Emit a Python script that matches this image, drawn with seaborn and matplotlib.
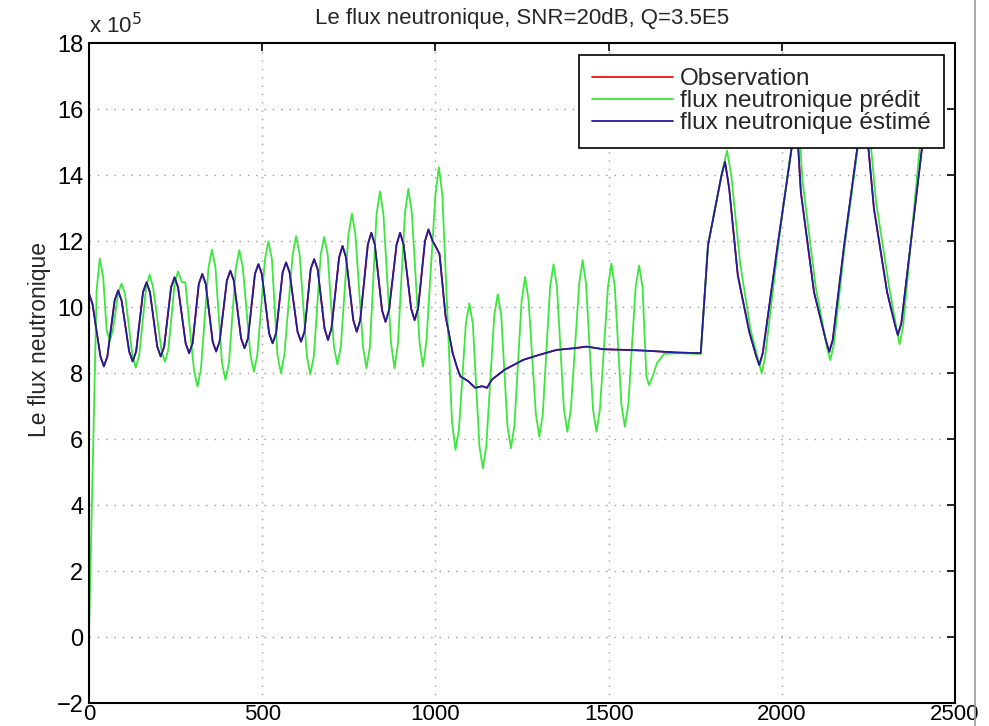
import matplotlib
matplotlib.use("Agg")
import matplotlib.pyplot as plt
import seaborn as sns
import pandas as pd
from matplotlib.lines import Line2D
from matplotlib import font_manager

# ---- data (values in units of 1e5) ----
est_x = [0, 10, 33, 43, 53, 74, 84, 94, 116, 126, 136, 156, 166, 176, 197, 207, 217,
         237, 247, 257, 279, 289, 299, 317, 327, 337, 357, 367, 377, 398, 408, 418,
         439, 449, 459, 479, 489, 499, 520, 530, 540, 559, 569, 579, 602, 612, 622,
         640, 650, 660, 680, 690, 700, 722, 732, 742, 763, 773, 783, 805, 815, 825,
         846, 856, 866, 888, 898, 908, 930, 940, 950, 970, 980, 992, 1005, 1012, 1029,
         1050, 1063, 1072, 1095, 1115, 1135, 1149, 1163, 1200, 1254, 1300, 1350, 1400,
         1437, 1485, 1550, 1600, 1700, 1766, 1787, 1826, 1836, 1848, 1873, 1906, 1925,
         1935, 1945, 1988, 2042, 2055, 2093, 2127, 2137, 2147, 2180, 2237, 2266, 2304,
         2327, 2335, 2345, 2405]
est_y = [10.4, 10.1, 8.5, 8.2, 8.5, 10.2, 10.5, 10.2, 8.65, 8.35, 8.65, 10.45, 10.75,
         10.45, 8.8, 8.5, 8.8, 10.6, 10.9, 10.6, 8.9, 8.6, 8.9, 10.7, 11.0, 10.7, 8.95,
         8.65, 8.95, 10.8, 11.1, 10.8, 9.05, 8.75, 9.05, 11.0, 11.3, 11.0, 9.2, 8.9,
         9.2, 11.05, 11.35, 11.05, 9.25, 8.95, 9.25, 11.15, 11.45, 11.15, 9.35, 9.0,
         9.35, 11.5, 11.85, 11.5, 9.6, 9.25, 9.6, 11.9, 12.25, 11.9, 9.9, 9.55, 9.9,
         11.9, 12.25, 11.9, 9.95, 9.6, 9.95, 12.0, 12.35, 12.0, 11.75, 11.6, 9.75, 8.6,
         8.15, 7.9, 7.75, 7.55, 7.6, 7.55, 7.8, 8.1, 8.4, 8.55, 8.7, 8.75, 8.8, 8.72,
         8.7, 8.68, 8.62, 8.6, 11.87, 14.0, 14.4, 13.6, 10.96, 9.25, 8.55, 8.24, 8.6,
         11.87, 15.8, 13.48, 10.45, 9.0, 8.64, 9.0, 11.87, 16.3, 12.98, 10.45, 9.45,
         9.15, 9.5, 14.85]

pred_x = [0, 22, 31, 41, 51, 60, 69, 84, 94, 104, 125, 135, 145, 165, 175, 185, 209,
          219, 229, 247, 257, 268, 278, 303, 313, 323, 345, 355, 365, 384, 394, 404,
          424, 434, 444, 466, 476, 486, 508, 518, 528, 544, 554, 564, 588, 598, 608,
          629, 639, 649, 669, 679, 689, 707, 717, 727, 749, 759, 769, 791, 801, 811,
          830, 840, 850, 872, 882, 892, 912, 922, 932, 954, 964, 974, 1000, 1010, 1020,
          1048, 1058, 1068, 1088, 1098, 1108, 1127, 1137, 1147, 1170, 1180, 1190, 1208,
          1218, 1228, 1249, 1259, 1269, 1290, 1300, 1310, 1331, 1341, 1351, 1371, 1381,
          1391, 1415, 1425, 1435, 1455, 1465, 1475, 1498, 1508, 1518, 1537, 1547, 1557,
          1578, 1588, 1598, 1609, 1617, 1627, 1640, 1660, 1700, 1766, 1787, 1832, 1842,
          1854, 1880, 1910, 1932, 1942, 1952, 1990, 2045, 2060, 2098, 2130, 2140, 2150,
          2182, 2242, 2272, 2310, 2332, 2340, 2350, 2398]
pred_y = [0.05, 10.5, 11.47, 10.9, 9.3, 8.97, 9.3, 10.4, 10.71, 10.4, 8.55, 8.16, 8.55,
          10.6, 10.98, 10.6, 8.7, 8.34, 8.7, 10.7, 11.08, 10.75, 10.75, 8.1, 7.59, 8.1,
          11.2, 11.74, 11.2, 8.3, 7.79, 8.3, 11.2, 11.72, 11.2, 8.55, 8.04, 8.55, 11.45,
          11.99, 11.45, 8.55, 7.99, 8.55, 11.6, 12.15, 11.6, 8.5, 7.96, 8.5, 11.6, 12.12,
          11.6, 8.8, 8.26, 8.8, 12.2, 12.83, 12.2, 8.8, 8.14, 8.8, 12.8, 13.5, 12.8, 8.9,
          8.14, 8.9, 12.85, 13.58, 12.85, 8.95, 8.19, 8.95, 13.4, 14.24, 13.4, 6.5, 5.67,
          6.3, 9.5, 10.11, 9.5, 5.8, 5.11, 5.8, 9.75, 10.39, 9.75, 6.4, 5.72, 6.4, 10.2,
          10.91, 10.2, 6.75, 6.07, 6.75, 10.6, 11.29, 10.6, 6.9, 6.22, 6.9, 10.7, 11.42,
          10.7, 6.9, 6.22, 6.9, 10.6, 11.32, 10.6, 7.05, 6.37, 7.05, 10.6, 11.26, 10.6,
          7.9, 7.63, 7.9, 8.3, 8.58, 8.6, 8.58, 11.9, 14.3, 14.74, 14.0, 11.3, 9.3, 8.4,
          7.99, 8.5, 11.9, 16.2, 13.8, 10.6, 8.8, 8.39, 8.85, 11.9, 16.6, 13.2, 10.6,
          9.3, 8.87, 9.4, 14.8]

# observation is hidden under the estimate in the reference
obs_x = est_x
obs_y = est_y

xticks = [0, 500, 1000, 1500, 2000, 2500]
yticks = [-2, 0, 2, 4, 6, 8, 10, 12, 14, 16, 18]

title = "Le flux neutronique, SNR=20dB, Q=3.5E5"
ylabel = "Le flux neutronique"
labels = ["Observation", "flux neutronique prédit", "flux neutronique éstimé"]
colors = ["#e00000", "#3ce63c", "#221c9c"]

sns.set_style("white")
plt.rcParams["font.family"] = ["Liberation Sans", "DejaVu Sans"]

names = {f.name for f in font_manager.fontManager.ttflist}
tick_family = "Liberation Sans Narrow" if "Liberation Sans Narrow" in names else "Liberation Sans"

fig = plt.figure(figsize=(9.89, 7.26), dpi=100)
W, H = 989, 726
ax = fig.add_axes([89 / W, (H - 703) / H, (955 - 89) / W, (703 - 43) / H])

df_obs = pd.DataFrame({"x": obs_x, "y": obs_y})
df_pred = pd.DataFrame({"x": pred_x, "y": pred_y})
df_est = pd.DataFrame({"x": est_x, "y": est_y})

sns.lineplot(data=df_obs, x="x", y="y", ax=ax, color=colors[0], lw=1.2,
             estimator=None, sort=False, label=labels[0])
sns.lineplot(data=df_pred, x="x", y="y", ax=ax, color=colors[1], lw=1.3,
             estimator=None, sort=False, label=labels[1])
sns.lineplot(data=df_est, x="x", y="y", ax=ax, color=colors[2], lw=1.3,
             estimator=None, sort=False, label=labels[2])

ax.set_xlim(0, 2500)
ax.set_ylim(-2, 18)
ax.set_xticks(xticks)
ax.set_yticks(yticks)
ax.set_xlabel("")
ax.set_ylabel(ylabel, fontsize=16.5)
ax.yaxis.set_label_coords(-0.044, 0.55)
ax.set_title(title, fontsize=16, pad=14)

ax.grid(True, color="#9a9a9a", linestyle=(0, (1, 5)), linewidth=1.0)
ax.tick_params(direction="in", length=6, width=1.2, top=True, right=True,
               labelsize=17, colors="black", pad=4)
ax.tick_params(axis="x", labelsize=16, pad=1)
for lab in ax.get_xticklabels() + ax.get_yticklabels():
    lab.set_family(tick_family)
for s in ax.spines.values():
    s.set_color("black")
    s.set_linewidth(1.5)

ax.text(0, 1.008, "x 10$^{5}$", transform=ax.transAxes, fontsize=16,
        ha="left", va="bottom")

leg = ax.legend(loc="upper right", bbox_to_anchor=(944 / W, (H - 55) / H),
                bbox_transform=fig.transFigure, fontsize=17.5, frameon=True,
                fancybox=False, framealpha=1, edgecolor="black",
                handlelength=3.3, borderpad=0.55, labelspacing=0.0,
                handletextpad=0.3, borderaxespad=0)
leg.get_frame().set_linewidth(1.2)
leg.set_zorder(10)

fig.add_artist(Line2D([975 / W, 975 / W], [0, 1], transform=fig.transFigure,
                      color="#9a9a9a", lw=1.2))

fig.savefig("out.png", dpi=100)
